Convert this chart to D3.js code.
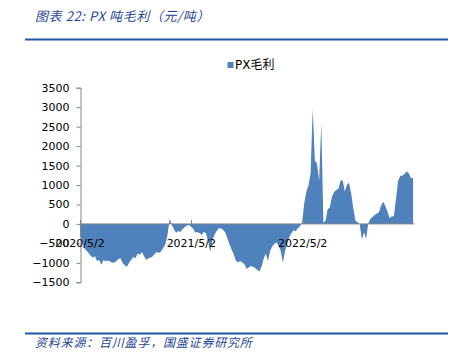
<!DOCTYPE html>
<html><head><meta charset="utf-8">
<script src="https://cdn.jsdelivr.net/npm/d3@7"></script>
<style>body{margin:0;background:#fff}svg{display:block}</style>
</head><body>
<script>
const title = "图表 22:  PX 吨毛利（元/吨）";
const source = "资料来源：百川盈孚，国盛证券研究所";
const seriesName = "PX毛利";
const startDate = "2020-05-02";
const stepDays = 7;
const tickDates = ["2020-05-02", "2021-05-02", "2022-05-02"];
const tickLabels = ["2020/5/2", "2021/5/2", "2022/5/2"];
const yTicks = [-1500, -1000, -500, 0, 500, 1000, 1500, 2000, 2500, 3000, 3500];
const values = [
 -300,-450,-620,-680,-750,-820,-860,-830,-950,-930,
 -1050,-930,-960,-940,-960,-1000,-990,-960,-900,-880,
 -1010,-1060,-1100,-1000,-920,-850,-880,-760,-790,-720,
 -830,-920,-890,-860,-840,-760,-720,-750,-700,-620,
 -520,-280,140,-30,-140,-230,-180,-210,-140,-80,
 -45,-30,-70,-120,-220,-210,-240,-280,-200,-240,
 -450,-720,-420,-280,-180,-110,-110,-150,-220,-360,
 -520,-660,-780,-940,-990,-950,-990,-1030,-1150,-1120,
 -1080,-1100,-1130,-1180,-1220,-1100,-900,-760,-950,-700,
 -580,-510,-480,-560,-690,-1000,-700,-520,-340,-240,
 -160,-190,-110,-60,30,520,830,980,1300,2950,
 1630,1550,1100,2600,30,80,380,420,700,820,
 870,900,1100,1130,830,1000,1060,780,400,80,
 40,0,-400,-220,-380,10,130,180,230,270,
 300,470,570,460,320,150,190,200,650,1100,
 1240,1240,1290,1350,1300,1180,1180
];

const W = 459, H = 359;
const svg = d3.select("body").append("svg").attr("width", W).attr("height", H);
const parse = d3.timeParse("%Y-%m-%d");
const d0 = parse(startDate);
const data = values.map((v, i) => ({date: d3.timeDay.offset(d0, i * stepDays), v}));

const x = d3.scaleTime()
  .domain([parse("2020-05-02"), parse("2023-05-02")])
  .range([80, 414]);
const y = d3.scaleLinear().domain([-1500, 3500]).range([282.3, 87.7]);

// title
svg.append("text").attr("x", 35).attr("y", 21)
  .attr("font-family", "Noto Sans CJK SC").attr("font-size", 13)
  .attr("letter-spacing", 0.6)
  .attr("font-style", "italic").attr("fill", "#1F4696").text(title);
svg.append("line").attr("x1", 25).attr("x2", 448).attr("y1", 39.5).attr("y2", 39.5)
  .attr("stroke", "#2158A8").attr("stroke-width", 2);

// legend
svg.append("rect").attr("x", 227.5).attr("y", 62).attr("width", 6).attr("height", 6).attr("fill", "#4F81BD");
svg.append("text").attr("x", 235).attr("y", 69)
  .attr("font-family", "DejaVu Sans, Noto Sans CJK SC").attr("font-size", 12)
  .attr("fill", "#000").text(seriesName);

// area
const area = d3.area().x(d => x(d.date)).y0(y(0)).y1(d => y(d.v));
svg.append("path").datum(data).attr("d", area).attr("fill", "#4F81BD");

// y axis
const yAxis = d3.axisLeft(y).tickValues(yTicks).tickSize(4).tickFormat(d3.format("d"));
const gy = svg.append("g").attr("transform", "translate(80.5,0)").call(yAxis);
gy.select(".domain").attr("stroke", "#868686");
gy.selectAll(".tick line").attr("stroke", "#868686");
gy.selectAll(".tick text").attr("font-family", "DejaVu Sans").attr("font-size", 11)
  .attr("fill", "#000").attr("x", -11);

// x axis at zero
const gx = svg.append("g").attr("transform", `translate(0,${y(0)})`);
gx.append("line").attr("x1", 80).attr("x2", 414.5).attr("y1", 0).attr("y2", 0).attr("stroke", "#868686");
const tdates = tickDates.map(parse);
gx.selectAll(".xt").data(tdates).enter().append("line")
  .attr("x1", d => Math.round(x(d)) + 0.5).attr("x2", d => Math.round(x(d)) + 0.5)
  .attr("y1", 0).attr("y2", -4).attr("stroke", "#868686");
gx.selectAll(".xl").data(tdates).enter().append("text")
  .attr("x", d => x(d)).attr("y", 23)
  .attr("text-anchor", "middle")
  .attr("font-family", "DejaVu Sans").attr("font-size", 11).attr("fill", "#000")
  .text((d, i) => tickLabels[i]);

// footer
svg.append("line").attr("x1", 25).attr("x2", 448).attr("y1", 333.5).attr("y2", 333.5)
  .attr("stroke", "#2158A8").attr("stroke-width", 2);
svg.append("text").attr("x", 35).attr("y", 347)
  .attr("font-family", "Noto Sans CJK SC").attr("font-size", 12)
  .attr("letter-spacing", 0.8)
  .attr("font-style", "italic").attr("fill", "#1F4696").text(source);
</script>
</body></html>
